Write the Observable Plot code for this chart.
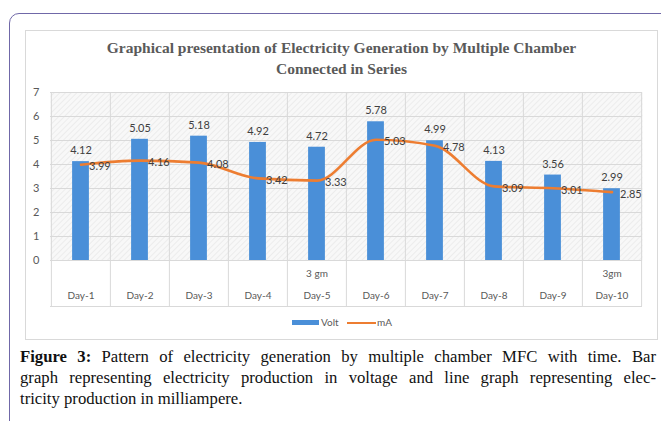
<!DOCTYPE html>
<html>
<head>
<meta charset="utf-8">
<script src="https://cdn.jsdelivr.net/npm/d3@7"></script>
<script src="https://cdn.jsdelivr.net/npm/@observablehq/plot@0.6"></script>
<style>
  html, body { margin: 0; padding: 0; background: #fff; width: 661px; height: 421px; overflow: hidden; position: relative; }
  #outer { position: absolute; left: 9px; top: 13px; width: 720px; height: 520px; border: 1.5px solid #7068a8; border-radius: 10px; box-sizing: border-box; }
  #frame { position: absolute; left: 25px; top: 30px; width: 633px; height: 310px; border: 1px solid #d9d9d9; box-sizing: border-box; background: #fff; }
  #title { position: absolute; left: 25px; top: 37px; width: 633px; text-align: center; font-family: "Liberation Serif", serif; font-weight: bold; font-size: 15.5px; line-height: 21px; color: #5a5a5a; }
  #chart { position: absolute; left: 20px; top: 80px; }
  #legend { position: absolute; top: 315px; left: 0; width: 661px; font-family: Lato, "Open Sans", sans-serif; font-size: 10px; color: #595959; }
  .sw { position: absolute; }
  #caption { position: absolute; left: 20px; top: 346px; width: 636px; font-family: "Liberation Serif", serif; font-size: 16.7px; line-height: 21px; color: #111; }
  .jl { text-align: justify; text-align-last: justify; white-space: nowrap; }
</style>
</head>
<body>
<div id="outer"></div>
<div id="frame"></div>
<div id="title">Graphical presentation of Electricity Generation by Multiple Chamber<br>Connected in Series</div>
<div id="chart"></div>
<div id="legend">
  <div class="sw" style="left:292px; top:5px; width:27px; height:5px; background:#4a8fd8;"></div>
  <div class="sw" style="left:321px; top:1px;">Volt</div>
  <div class="sw" style="left:347px; top:6.5px; width:29px; height:2px; background:#ed7d31;"></div>
  <div class="sw" style="left:377px; top:1px;">mA</div>
</div>
<div id="caption">
  <div class="jl"><b>Figure 3:</b> Pattern of electricity generation by multiple chamber MFC with time. Bar</div>
  <div class="jl">graph representing electricity production in voltage and line graph representing elec-</div>
  <div>tricity production in milliampere.</div>
</div>
<script>
const days = ["Day-1","Day-2","Day-3","Day-4","Day-5","Day-6","Day-7","Day-8","Day-9","Day-10"];
const volt = [4.12, 5.05, 5.18, 4.92, 4.72, 5.78, 4.99, 4.13, 3.56, 2.99];
const mA = [3.99, 4.16, 4.08, 3.42, 3.33, 5.03, 4.78, 3.09, 3.01, 2.85];
const notes = ["", "", "", "", "3 gm", "", "", "", "", "3gm"];
const yTicks = [0, 1, 2, 3, 4, 5, 6, 7];

const data = days.map((d, i) => ({day: d, volt: volt[i], mA: mA[i], note: notes[i]}));

const W = 640, H = 230, ML = 30, MR = 18, MT = 12, MB = 50;
const step = (W - ML - MR) / days.length;
const barW = 17;
const inset = (step - barW) / 2;
const grid = "#d9d9d9";
const font = "Lato, 'Open Sans', sans-serif";

const chart = Plot.plot({
  width: W, height: H,
  marginLeft: ML, marginRight: MR, marginTop: MT, marginBottom: MB,
  style: {fontFamily: font, fontSize: "11px", color: "#595959", background: "transparent", overflow: "visible"},
  x: {domain: days, padding: 0, axis: null},
  y: {domain: [0, 7], axis: null, label: null},
  marks: [
    Plot.frame({fill: "url(#hatch)", stroke: null}),
    Plot.ruleY(yTicks, {stroke: grid, strokeWidth: 1}),
    Plot.ruleX(days, {x: d => d, dx: -step / 2, stroke: grid, insetBottom: -46}),
    Plot.ruleX([days[days.length - 1]], {x: d => d, dx: step / 2, stroke: grid, insetBottom: -46}),
    Plot.ruleY([0], {dy: 46, stroke: grid}),
    Plot.axisY({ticks: yTicks, tickFormat: d3.format("d"), tickSize: 0, tickPadding: 11, fontSize: 11, fill: "#595959", label: null}),
    Plot.barY(data, {x: "day", y: "volt", fill: "#4a8fd8", insetLeft: inset, insetRight: inset}),
    Plot.line(data, {x: "day", y: "mA", stroke: "#ed7d31", strokeWidth: 2.6, curve: "monotone-x"}),
    Plot.text(data, {x: "day", y: "volt", text: d => d.volt.toFixed(2), dy: -11, fill: "#404040", fontSize: 11}),
    Plot.text(data, {x: "day", y: "mA", text: d => d.mA.toFixed(2), textAnchor: "start", dx: 8, dy: 2, fill: "#404040", fontSize: 11}),
    Plot.text(data, {x: "day", frameAnchor: "bottom", text: "note", dy: 16, fill: "#595959", fontSize: 10}),
    Plot.text(data, {x: "day", frameAnchor: "bottom", text: "day", dy: 38, fill: "#595959", fontSize: 10})
  ]
});

const ns = "http://www.w3.org/2000/svg";
const defs = document.createElementNS(ns, "defs");
defs.innerHTML = '<pattern id="hatch" width="4" height="4" patternUnits="userSpaceOnUse" patternTransform="rotate(45)">' +
  '<rect width="4" height="4" fill="#f8f8f8"></rect>' +
  '<line x1="0" y1="0" x2="0" y2="4" stroke="#e6e6e6" stroke-width="1.3"></line></pattern>';
chart.insertBefore(defs, chart.firstChild);
document.getElementById("chart").appendChild(chart);
</script>
</body>
</html>
